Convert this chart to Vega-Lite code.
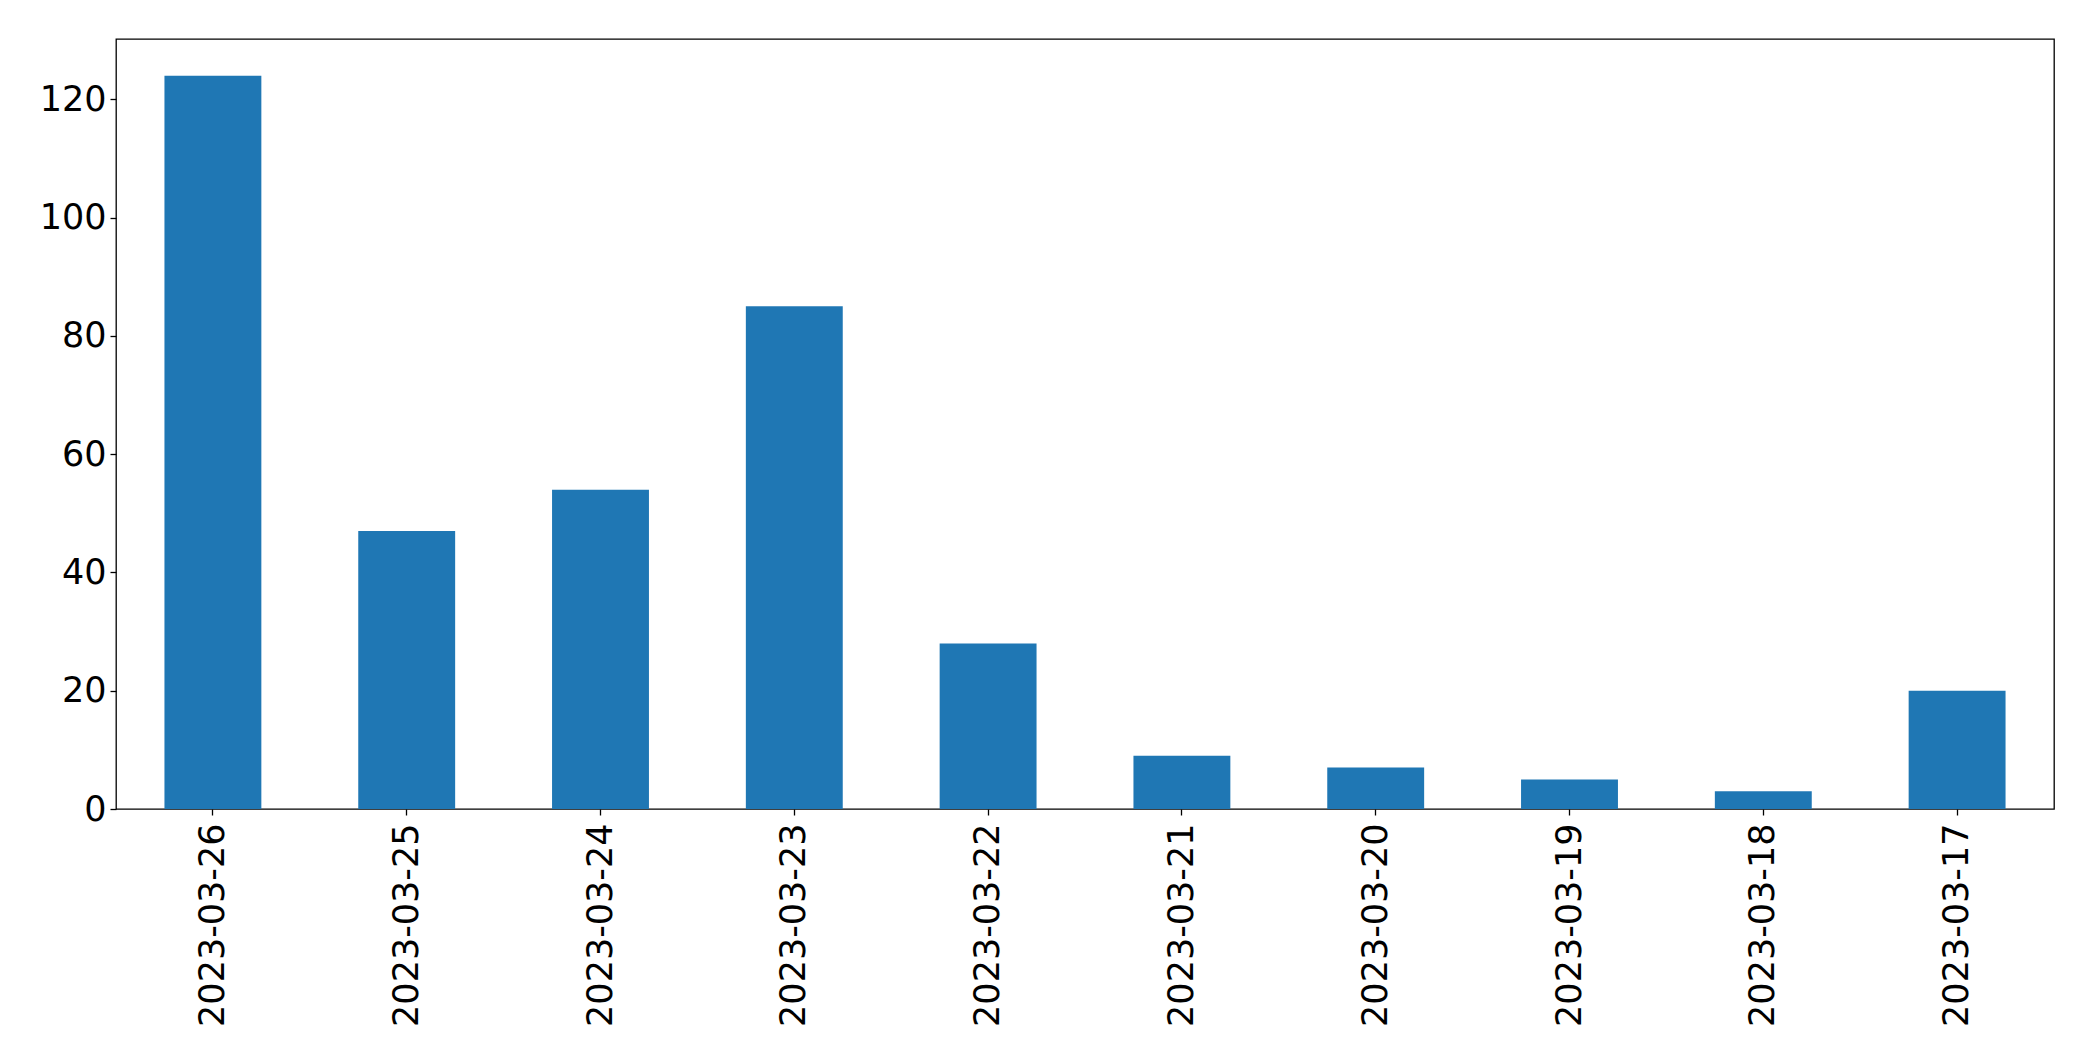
{
  "$schema": "https://vega.github.io/schema/vega-lite/v6.json",
  "autosize": {"type": "none"},
  "padding": {"left": 116, "top": 39, "right": 38, "bottom": 252},
  "width": 1938,
  "height": 770,
  "background": "white",
  "config": {
    "view": {"stroke": "black", "strokeWidth": 1.3},
    "font": "DejaVu Sans"
  },
  "data": {
    "values": [
      {"date": "2023-03-26", "count": 124},
      {"date": "2023-03-25", "count": 47},
      {"date": "2023-03-24", "count": 54},
      {"date": "2023-03-23", "count": 85},
      {"date": "2023-03-22", "count": 28},
      {"date": "2023-03-21", "count": 9},
      {"date": "2023-03-20", "count": 7},
      {"date": "2023-03-19", "count": 5},
      {"date": "2023-03-18", "count": 3},
      {"date": "2023-03-17", "count": 20}
    ]
  },
  "mark": {"type": "bar", "color": "#1f77b4"},
  "encoding": {
    "x": {
      "field": "date",
      "type": "nominal",
      "sort": null,
      "scale": {"paddingInner": 0.5, "paddingOuter": 0.25},
      "axis": {
        "title": null,
        "labelAngle": -90,
        "labelFontSize": 35,
        "labelLimit": 0,
        "labelColor": "black",
        "labelPadding": 8,
        "tickColor": "black",
        "tickSize": 6,
        "tickWidth": 1.3,
        "domain": false,
        "grid": false
      }
    },
    "y": {
      "field": "count",
      "type": "quantitative",
      "scale": {"domain": [0, 130.2], "nice": false, "zero": true},
      "axis": {
        "title": null,
        "values": [0, 20, 40, 60, 80, 100, 120],
        "labelFontSize": 35,
        "labelColor": "black",
        "labelPadding": 4,
        "tickColor": "black",
        "tickSize": 6,
        "tickWidth": 1.3,
        "domain": false,
        "grid": false
      }
    }
  }
}
